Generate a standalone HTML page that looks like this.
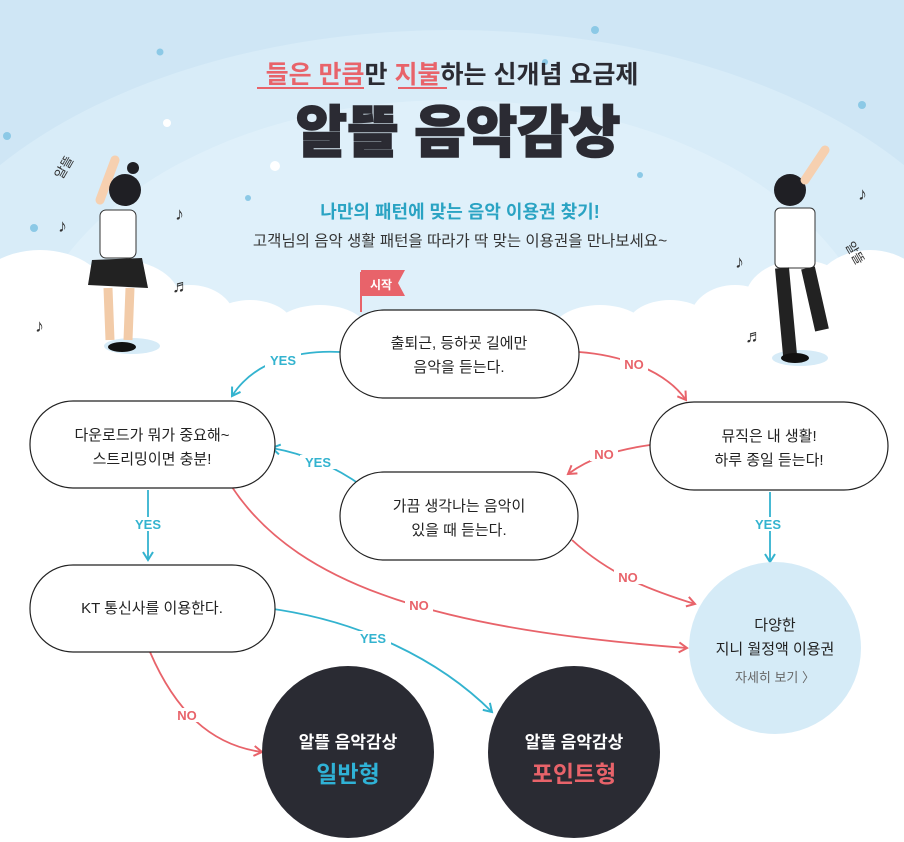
<!DOCTYPE html>
<html><head><meta charset="utf-8"><style>
html,body{margin:0;padding:0;background:#fff}
svg{display:block}
text{font-family:"Liberation Sans","Noto Sans CJK KR",sans-serif}
</style></head><body>
<svg width="904" height="842" viewBox="0 0 904 842" xmlns="http://www.w3.org/2000/svg">
<defs>
<clipPath id="skyclip"><rect width="904" height="340"/></clipPath>
<marker id="ab" markerWidth="12" markerHeight="12" refX="9" refY="6" orient="auto" markerUnits="userSpaceOnUse"><path d="M1,1 L9,6 L1,11" fill="none" stroke="#33b3cf" stroke-width="2"/></marker>
<marker id="ar" markerWidth="12" markerHeight="12" refX="9" refY="6" orient="auto" markerUnits="userSpaceOnUse"><path d="M1,1 L9,6 L1,11" fill="none" stroke="#e8636a" stroke-width="2"/></marker>
</defs>
<rect width="904" height="842" fill="#fff"/>
<g clip-path="url(#skyclip)">
<rect width="904" height="340" fill="#cfe6f5"/>
<ellipse cx="452" cy="360" rx="560" ry="330" fill="#d8ecf8"/>
<ellipse cx="452" cy="380" rx="430" ry="280" fill="#dff0fa"/>
</g>
<!-- clouds -->
<g fill="#fff">
<ellipse cx="40" cy="300" rx="70" ry="50"/><ellipse cx="120" cy="300" rx="60" ry="40"/>
<ellipse cx="190" cy="320" rx="45" ry="35"/><ellipse cx="250" cy="330" rx="45" ry="30"/>
<ellipse cx="320" cy="335" rx="50" ry="30"/><ellipse cx="600" cy="335" rx="50" ry="30"/>
<ellipse cx="670" cy="330" rx="45" ry="30"/><ellipse cx="735" cy="320" rx="45" ry="35"/>
<ellipse cx="800" cy="300" rx="55" ry="40"/><ellipse cx="870" cy="300" rx="60" ry="50"/>
<rect x="0" y="330" width="904" height="40"/>
</g>
<g fill="#8cc9e6"><circle cx="160" cy="52" r="3.5"/><circle cx="595" cy="30" r="4"/><circle cx="640" cy="175" r="3"/><circle cx="248" cy="198" r="3"/><circle cx="7" cy="136" r="4"/><circle cx="34" cy="228" r="4"/><circle cx="862" cy="105" r="4"/><circle cx="545" cy="62" r="3"/></g>
<circle cx="275" cy="166" r="5" fill="#fff"/><circle cx="167" cy="123" r="4" fill="#fff"/>
<!-- header text -->
<text x="452" y="83" text-anchor="middle" font-size="25" font-weight="bold" fill="#2b2b33"><tspan fill="#e8636a">들은 만큼</tspan>만 <tspan fill="#e8636a">지불</tspan>하는 신개념 요금제</text>
<line x1="257" y1="88" x2="364" y2="88" stroke="#e8636a" stroke-width="2"/>
<line x1="398" y1="88" x2="447" y2="88" stroke="#e8636a" stroke-width="2"/>
<text x="458" y="152" text-anchor="middle" font-size="56" font-weight="900" fill="#2b2b33" stroke="#2b2b33" stroke-width="1.5">알뜰 음악감상</text>
<text x="460" y="218" text-anchor="middle" font-size="18" font-weight="bold" fill="#2aa3c3">나만의 패턴에 맞는 음악 이용권 찾기!</text>
<text x="460" y="246" text-anchor="middle" font-size="15.5" fill="#333">고객님의 음악 생활 패턴을 따라가 딱 맞는 이용권을 만나보세요~</text>
<!-- characters (simplified) -->
<g>
<ellipse cx="132" cy="346" rx="28" ry="8" fill="#d6ebf7"/>
<path d="M100,200 L115,160" stroke="#f6d0b0" stroke-width="9" stroke-linecap="round"/>
<circle cx="125" cy="190" r="16" fill="#1f1f24"/><circle cx="133" cy="168" r="6" fill="#1f1f24"/>
<rect x="100" y="210" width="36" height="48" rx="6" fill="#fff" stroke="#333"/>
<path d="M92,260 L142,258 L148,288 L88,285 Z" fill="#222"/>
<path d="M108,288 L110,340 M130,288 L128,340" stroke="#f2cba8" stroke-width="9"/>
<ellipse cx="122" cy="347" rx="14" ry="5" fill="#111"/>
<text x="62" y="180" font-size="13" fill="#333" transform="rotate(-60 62 180)">알뜰</text>
<ellipse cx="800" cy="358" rx="28" ry="8" fill="#d6ebf7"/>
<circle cx="790" cy="190" r="16" fill="#1f1f24"/>
<path d="M805,180 L825,150" stroke="#f6d0b0" stroke-width="9" stroke-linecap="round"/>
<rect x="775" y="208" width="40" height="60" rx="5" fill="#fff" stroke="#333"/>
<path d="M782,268 L790,355 M808,268 L822,330" stroke="#222" stroke-width="14"/>
<ellipse cx="795" cy="358" rx="14" ry="5" fill="#111"/>
<text x="845" y="245" font-size="13" fill="#333" transform="rotate(60 845 245)">알뜰</text>
</g>
<g font-size="18" fill="#333"><text x="58" y="232">♪</text><text x="175" y="220">♪</text><text x="172" y="292">♬</text><text x="35" y="332">♪</text><text x="858" y="200">♪</text><text x="735" y="268">♪</text><text x="745" y="342">♬</text></g>
<!-- flag -->
<line x1="361" y1="272" x2="361" y2="312" stroke="#e8636a" stroke-width="2"/>
<path d="M361,270 L405,270 L398,283 L405,296 L361,296 Z" fill="#e8636a"/>
<text x="381" y="289" text-anchor="middle" font-size="12" font-weight="bold" fill="#fff">시작</text>
<!-- connectors -->
<g fill="none" stroke-width="1.8">
<path d="M340,352 C300,350 255,360 232,396" stroke="#33b3cf" marker-end="url(#ab)"/>
<path d="M579,352 C620,355 665,370 686,400" stroke="#e8636a" marker-end="url(#ar)"/>
<path d="M650,445 C615,450 590,458 568,474" stroke="#e8636a" marker-end="url(#ar)"/>
<path d="M362,486 C340,470 310,455 272,448" stroke="#33b3cf" marker-end="url(#ab)"/>
<path d="M148,490 L148,560" stroke="#33b3cf" marker-end="url(#ab)"/>
<path d="M770,492 L770,562" stroke="#33b3cf" marker-end="url(#ab)"/>
<path d="M572,540 C610,575 650,590 695,604" stroke="#e8636a" marker-end="url(#ar)"/>
<path d="M232,487 C300,590 450,630 687,648" stroke="#e8636a" marker-end="url(#ar)"/>
<path d="M266,608 C360,620 440,660 492,712" stroke="#33b3cf" marker-end="url(#ab)"/>
<path d="M150,652 C175,710 210,745 262,752" stroke="#e8636a" marker-end="url(#ar)"/>
</g>
<g font-size="13" font-weight="bold">
<rect x="265" y="353" width="36" height="14" fill="#fff"/><text x="283" y="365" text-anchor="middle" fill="#33b3cf">YES</text>
<rect x="620" y="357" width="28" height="14" fill="#fff"/><text x="634" y="369" text-anchor="middle" fill="#e8636a">NO</text>
<rect x="590" y="447" width="28" height="14" fill="#fff"/><text x="604" y="459" text-anchor="middle" fill="#e8636a">NO</text>
<rect x="300" y="455" width="36" height="14" fill="#fff"/><text x="318" y="467" text-anchor="middle" fill="#33b3cf">YES</text>
<rect x="130" y="517" width="36" height="14" fill="#fff"/><text x="148" y="529" text-anchor="middle" fill="#33b3cf">YES</text>
<rect x="752" y="517" width="36" height="14" fill="#fff"/><text x="768" y="529" text-anchor="middle" fill="#33b3cf">YES</text>
<rect x="614" y="570" width="28" height="14" fill="#fff"/><text x="628" y="582" text-anchor="middle" fill="#e8636a">NO</text>
<rect x="405" y="598" width="28" height="14" fill="#fff"/><text x="419" y="610" text-anchor="middle" fill="#e8636a">NO</text>
<rect x="355" y="631" width="36" height="14" fill="#fff"/><text x="373" y="643" text-anchor="middle" fill="#33b3cf">YES</text>
<rect x="173" y="708" width="28" height="14" fill="#fff"/><text x="187" y="720" text-anchor="middle" fill="#e8636a">NO</text>
</g>
<!-- nodes -->
<g fill="#fff" stroke="#222" stroke-width="1.2">
<rect x="340" y="310" width="239" height="88" rx="44"/>
<rect x="30" y="401" width="245" height="87" rx="43"/>
<rect x="650" y="402" width="238" height="88" rx="44"/>
<rect x="340" y="472" width="238" height="88" rx="44"/>
<rect x="30" y="565" width="245" height="87" rx="43"/>
</g>
<g font-size="15" fill="#222" text-anchor="middle">
<text x="459" y="348">출퇴근, 등하굣 길에만</text><text x="459" y="372">음악을 듣는다.</text>
<text x="152" y="440">다운로드가 뭐가 중요해~</text><text x="152" y="464">스트리밍이면 충분!</text>
<text x="769" y="441">뮤직은 내 생활!</text><text x="769" y="465">하루 종일 듣는다!</text>
<text x="459" y="511">가끔 생각나는 음악이</text><text x="459" y="535">있을 때 듣는다.</text>
<text x="152" y="613">KT 통신사를 이용한다.</text>
</g>
<circle cx="775" cy="648" r="86" fill="#d5ebf7"/>
<g text-anchor="middle"><text x="775" y="630" font-size="15" fill="#222">다양한</text>
<text x="775" y="654" font-size="15" fill="#222">지니 월정액 이용권</text>
<text x="775" y="682" font-size="13" fill="#666">자세히 보기 〉</text></g>
<circle cx="348" cy="752" r="86" fill="#2a2b33"/>
<circle cx="574" cy="752" r="86" fill="#2a2b33"/>
<g text-anchor="middle" font-weight="bold">
<text x="348" y="748" font-size="17" fill="#fff">알뜰 음악감상</text>
<text x="348" y="782" font-size="23" fill="#2fb2d6">일반형</text>
<text x="574" y="748" font-size="17" fill="#fff">알뜰 음악감상</text>
<text x="574" y="782" font-size="23" fill="#e8636a">포인트형</text>
</g>
</svg>
</body></html>
